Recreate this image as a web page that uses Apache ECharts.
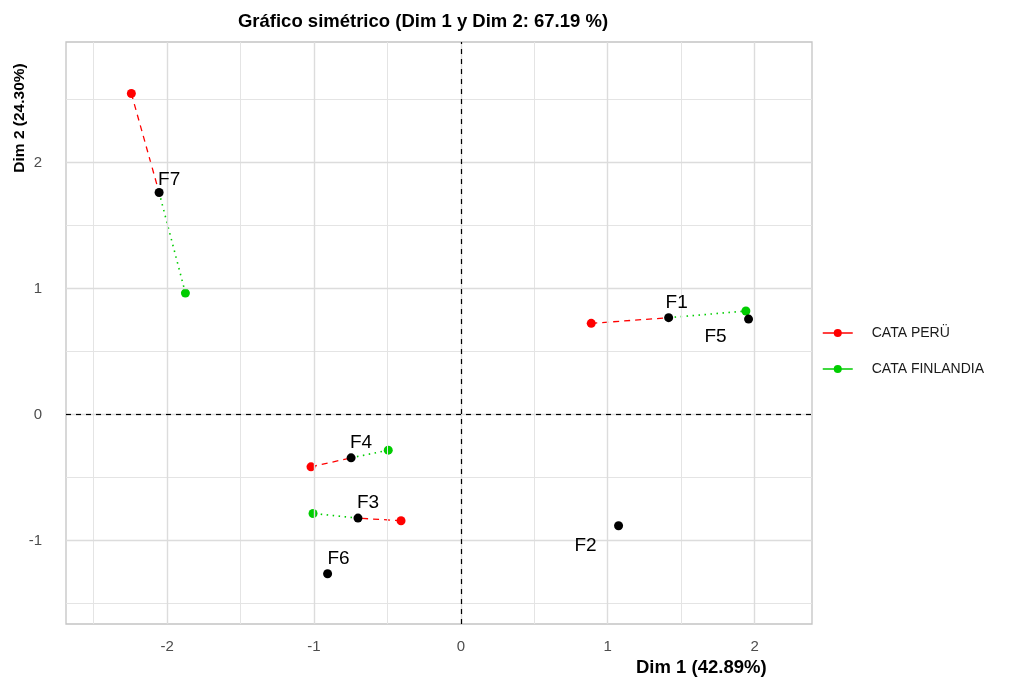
<!DOCTYPE html>
<html>
<head>
<meta charset="utf-8">
<title>Gráfico simétrico</title>
<script src="https://cdn.jsdelivr.net/npm/echarts@6/dist/echarts.min.js"></script>
<style>
  html, body { margin: 0; padding: 0; background: #fff; }
  #chart { width: 1017px; height: 680px; }
</style>
</head>
<body>
<div id="chart"></div>
<script>
// puntos medios (negro) y por cata
const labels = ["F1", "F2", "F3", "F4", "F5", "F6", "F7"];
const meanX = [1.415, 1.074, -0.700, -0.747, 1.959, -0.907, -2.054];
const meanY = [0.769, -0.882, -0.821, -0.343, 0.758, -1.262, 1.762];
const peruX = [0.888, null, -0.407, -1.020, null, null, -2.243];
const peruY = [0.724, null, -0.842, -0.414, null, null, 2.547];
const finX = [1.941, null, -1.006, -0.494, null, null, -1.875];
const finY = [0.822, null, -0.784, -0.282, null, null, 0.964];
const groups = ["CATA PERÜ", "CATA FINLANDIA"];

// ejes
const xTicks = [-2, -1, 0, 1, 2];
const yTicks = [-1, 0, 1, 2];
const xMinor = [-2.5, -1.5, -0.5, 0.5, 1.5];
const yMinor = [-1.5, -0.5, 0.5, 1.5, 2.5];

// desplazamiento de etiquetas (px), estilo ggrepel
const labelOffset = {
  F1: [8, -15], F2: [-33, 20], F3: [10, -15], F4: [10, -15],
  F5: [-33, 18], F6: [11, -15], F7: [10, -13]
};

const FONT = "Liberation Sans, Arial, sans-serif";
const RED = "#ff0000";
const GREEN = "#00cd00";

const chart = echarts.init(document.getElementById("chart"));

// lineas de la rejilla como markLine
const minorStyle = { color: "#e4e4e4", width: 1, type: "solid" };
const majorStyle = { color: "#dcdcdc", width: 1.4, type: "solid" };
const gridLines = [];
xMinor.forEach((v) => gridLines.push({ xAxis: v, lineStyle: minorStyle }));
yMinor.forEach((v) => gridLines.push({ yAxis: v, lineStyle: minorStyle }));
xTicks.forEach((v) => gridLines.push({ xAxis: v, lineStyle: majorStyle }));
yTicks.forEach((v) => gridLines.push({ yAxis: v, lineStyle: majorStyle }));

const series = [
  {
    type: "line",
    data: [],
    z: 1,
    silent: true,
    markLine: {
      silent: true,
      symbol: "none",
      label: { show: false },
      animation: false,
      lineStyle: { type: "solid" },
      data: gridLines,
    },
  },
  {
    type: "line",
    data: [],
    z: 2,
    silent: true,
    markLine: {
      silent: true,
      symbol: "none",
      label: { show: false },
      animation: false,
      lineStyle: { color: "#000", width: 1.2, type: [5, 5] },
      data: [{ xAxis: 0 }, { yAxis: 0 }],
    },
  },
];

// segmentos cata -> punto medio
labels.forEach((name, i) => {
  if (peruX[i] !== null) {
    series.push({
      type: "line",
      name: groups[0],
      z: 3,
      symbol: "circle",
      symbolSize: 9,
      itemStyle: { color: RED, opacity: 1 },
      lineStyle: { color: RED, width: 1.3, type: [6, 5] },
      data: [
        { value: [peruX[i], peruY[i]] },
        { value: [meanX[i], meanY[i]], symbol: "none" },
      ],
    });
  }
  if (finX[i] !== null) {
    series.push({
      type: "line",
      name: groups[1],
      z: 3,
      symbol: "circle",
      symbolSize: 9,
      itemStyle: { color: GREEN, opacity: 1 },
      lineStyle: { color: GREEN, width: 1.6, type: [1.5, 4.5] },
      data: [
        { value: [meanX[i], meanY[i]], symbol: "none" },
        { value: [finX[i], finY[i]] },
      ],
    });
  }
});

// puntos medios con etiqueta
series.push({
  type: "scatter",
  z: 5,
  symbolSize: 9,
  itemStyle: { color: "#000", opacity: 1 },
  label: {
    show: true,
    position: "inside",
    formatter: "{b}",
    color: "#000",
    fontSize: 19,
    fontFamily: FONT,
  },
  data: labels.map((name, i) => ({
    name: name,
    value: [meanX[i], meanY[i]],
    label: { offset: labelOffset[name] },
  })),
});

const option = {
  animation: false,
  backgroundColor: "#fff",
  textStyle: { fontFamily: FONT },
  title: {
    text: "Gráfico simétrico (Dim 1 y Dim 2: 67.19 %)",
    left: 418,
    top: 7,
    textAlign: "center",
    textStyle: { fontSize: 18.5, fontWeight: "bold", color: "#000", fontFamily: FONT },
  },
  legend: {
    data: groups,
    orient: "vertical",
    left: 817,
    top: 321,
    itemWidth: 30,
    itemHeight: 10,
    itemGap: 22,
    lineStyle: { type: "solid", width: 1.5 },
    textStyle: { fontSize: 14, color: "#1a1a1a", fontFamily: FONT, padding: [0, 0, 0, 14] },
  },
  grid: {
    left: 66,
    right: 205,
    top: 42,
    bottom: 56,
    show: true,
    borderColor: "#c4c4c4",
    borderWidth: 1.3,
    backgroundColor: "#fff",
  },
  xAxis: {
    type: "value",
    min: -2.688,
    max: 2.391,
    axisLine: { show: false },
    splitLine: { show: false },
    axisTick: { show: true, customValues: xTicks, length: 4, lineStyle: { color: "#b0b0b0" } },
    axisLabel: {
      customValues: xTicks,
      color: "#4d4d4d",
      fontSize: 15,
      margin: 15,
      fontFamily: FONT,
    },
  },
  yAxis: {
    type: "value",
    min: -1.661,
    max: 2.956,
    axisLine: { show: false },
    splitLine: { show: false },
    axisTick: { show: true, customValues: yTicks, length: 4, lineStyle: { color: "#b0b0b0" } },
    axisLabel: {
      customValues: yTicks,
      color: "#4d4d4d",
      fontSize: 15,
      margin: 24,
      fontFamily: FONT,
    },
  },
  graphic: [
    {
      type: "text",
      left: 636,
      top: 658,
      style: { text: "Dim 1 (42.89%)", font: "bold 18.5px " + FONT, fill: "#000" },
    },
    {
      type: "text",
      x: 20,
      y: 118,
      rotation: Math.PI / 2,
      style: {
        text: "Dim 2 (24.30%)",
        font: "bold 15.5px " + FONT,
        fill: "#000",
        align: "center",
        verticalAlign: "middle",
      },
      originX: 0,
      originY: 0,
    },
  ],
  series: series,
};

chart.setOption(option);
</script>
</body>
</html>
